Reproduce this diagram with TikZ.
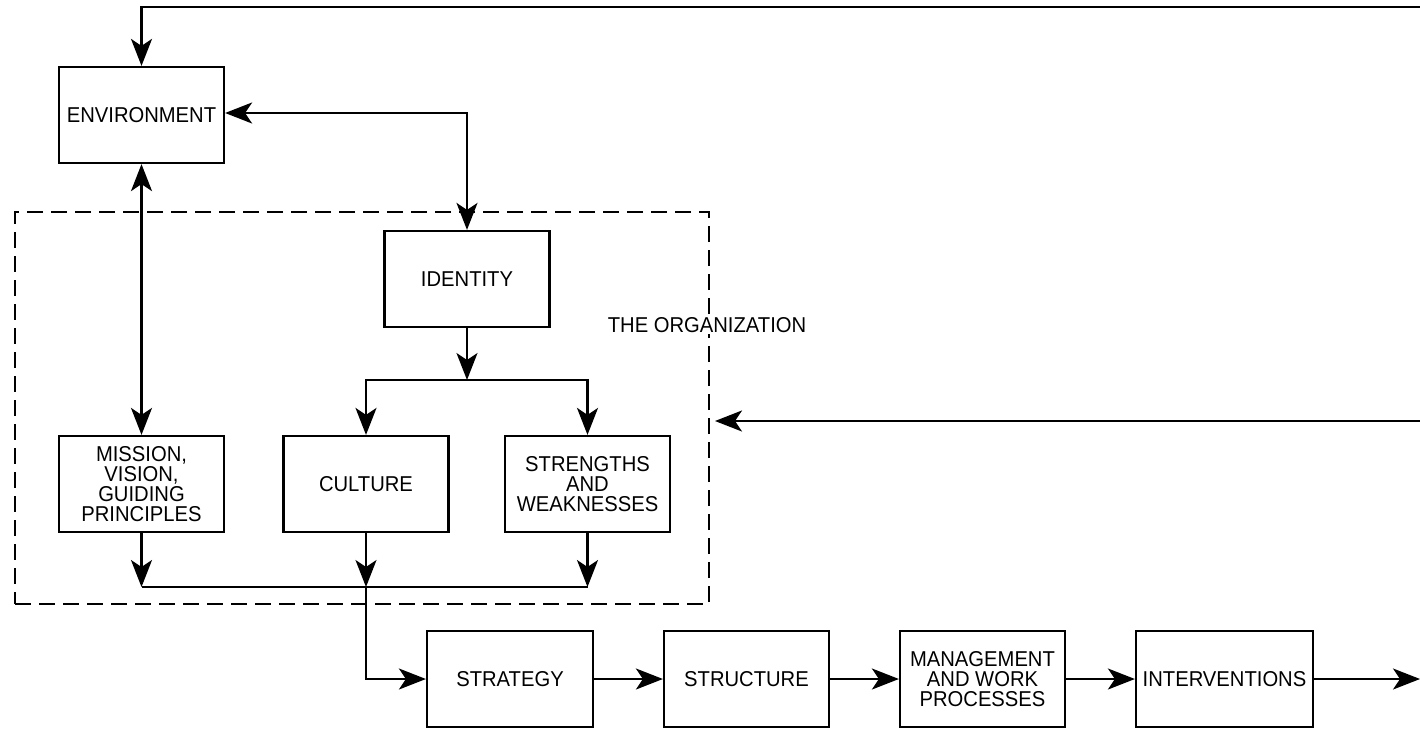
\documentclass[tikz,border=0pt]{standalone}
\usepackage{fontspec}
\setmainfont[FakeStretch=0.94]{Liberation Sans}
\usetikzlibrary{arrows.meta}
\begin{document}
\begin{tikzpicture}[x=1pt,y=-1pt,
  box/.style={draw,line width=2.2pt,minimum width=165pt,minimum height=96pt,
    inner sep=0pt,align=center,font=\fontsize{21.5}{20}\selectfont},
  conn/.style={line width=2.2pt},
  tip/.style={-{Stealth[length=27pt,width=21pt,inset=7pt]}},
  both/.style={{Stealth[length=27pt,width=21pt,inset=7pt]}-{Stealth[length=27pt,width=21pt,inset=7pt]}},
  orgframe/.style={draw,line width=2pt,dash pattern=on 16pt off 8pt,
    minimum width=694pt,minimum height=392pt,inner sep=0pt},
  caption/.style={font=\fontsize{21.5}{20}\selectfont,fill=white,inner sep=1pt}
]
\useasboundingbox (0,0) rectangle (1420,728);

% dashed frame around the organization
\node[orgframe] (org) at (362,408) {};
\node[caption] (orglabel) at (707,325) {THE ORGANIZATION};

% blocks
\node[box] (env) at (141.5,115) {ENVIRONMENT};
\node[box] (id) at (467,279) {IDENTITY};
\node[box] (mis) at (141.5,484) {MISSION,\\VISION,\\GUIDING\\PRINCIPLES};
\node[box] (cul) at (366,484) {CULTURE};
\node[box] (sw) at (587.5,484) {STRENGTHS\\AND\\WEAKNESSES};
\node[box,minimum width=166pt] (strat) at (510,679) {STRATEGY};
\node[box] (struc) at (746.5,679) {STRUCTURE};
\node[box] (mgmt) at (982.5,679) {MANAGEMENT\\AND WORK\\PROCESSES};
\node[box,minimum width=177pt] (int) at (1224.5,679) {INTERVENTIONS};

% junction points and free ends
\coordinate (split) at (467,380);
\coordinate (merge) at (366,587);
\coordinate (topright) at (1420,7);
\coordinate (fbright) at (1420,421);
\coordinate (out) at (1420,679);

% feedback loops
\draw[conn,tip] (topright) -| (env.north);
\draw[conn,tip,shorten >=5pt] (fbright) -- (fbright -| org.east);

% environment links
\draw[conn,both] (env.east |- 0,113) -| (id.north);
\draw[conn,both] (env.south) -- (mis.north);

% identity split
\draw[conn,tip] (id.south) -- (split);
\draw[conn,tip] (split) -| (cul.north);
\draw[conn,tip] (split) -| (sw.north);

% merge below the three blocks
\draw[conn,tip] (mis.south) -- (mis |- merge);
\draw[conn,tip] (cul.south) -- (merge);
\draw[conn,tip] (sw.south) -- (sw |- merge);
\draw[conn] (mis |- merge) -- (sw |- merge);
\draw[conn,tip] (merge) |- (strat.west);

% main chain
\draw[conn,tip] (strat.east) -- (struc.west);
\draw[conn,tip] (struc.east) -- (mgmt.west);
\draw[conn,tip] (mgmt.east) -- (int.west);
\draw[conn,tip] (int.east) -- (out);
\end{tikzpicture}
\end{document}
